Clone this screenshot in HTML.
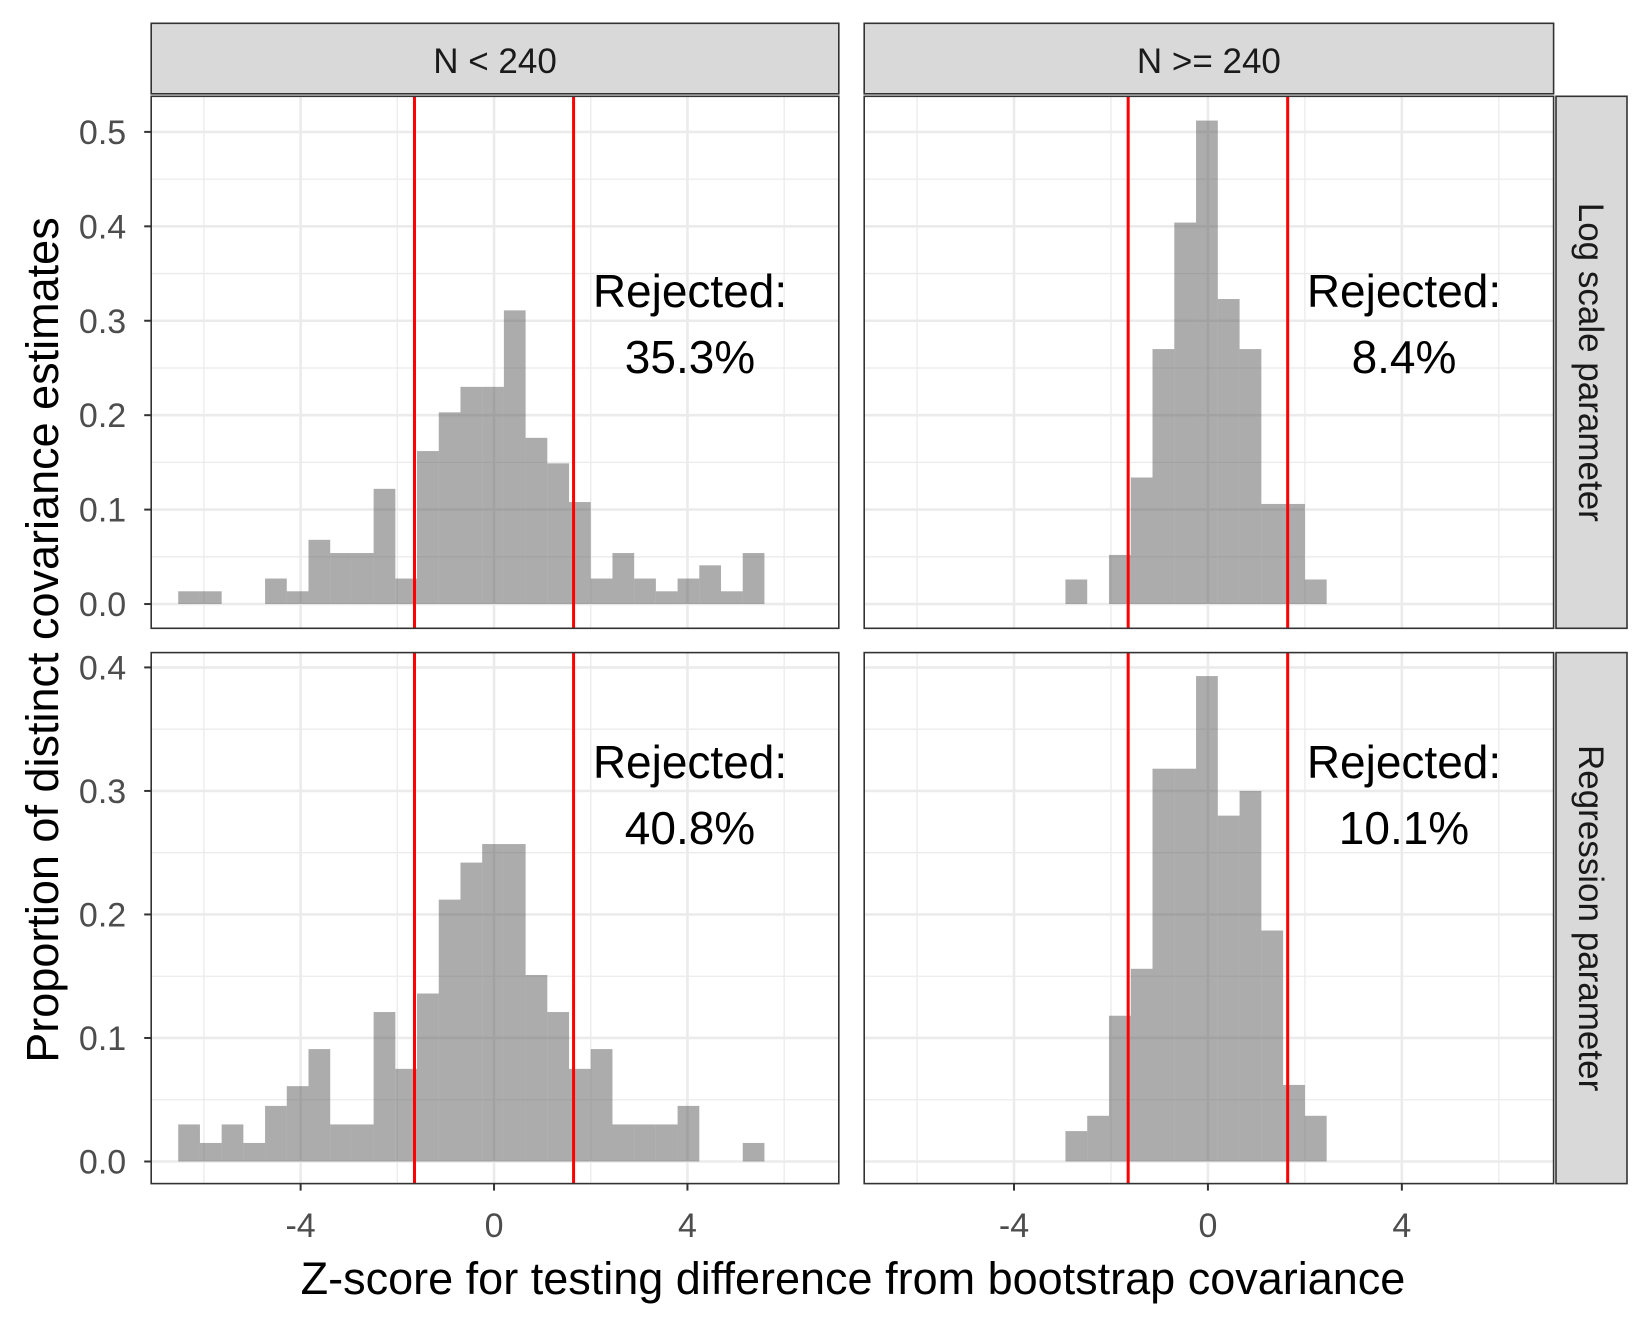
<!DOCTYPE html>
<html><head><meta charset="utf-8"><style>
body{margin:0;background:#fff}
svg{display:block;font-family:"Liberation Sans",sans-serif}
</style></head><body>
<svg id="chart" width="1650" height="1320" viewBox="0 0 1650 1320"></svg>
<script>
// ---- data ----
const binWidth = 0.449;
const binOrigin = 2.0;
const colLabels = ["N < 240", "N >= 240"];
const rowLabels = ["Log scale parameter", "Regression parameter"];
const rejectedLabels = [["35.3%", "8.4%"], ["40.8%", "10.1%"]];
const criticalValues = [-1.645, 1.645];
const xTicks = [-4, 0, 4];
const xMinor = [-6, -2, 2, 6];
const yTicksTop = [0, 0.1, 0.2, 0.3, 0.4, 0.5];
const yTicksBottom = [0, 0.1, 0.2, 0.3, 0.4];
const firstBinTL = -19, firstBinTR = -11, firstBinBL = -19, firstBinBR = -11;
const valuesTL = [0.0135,0.0135,0,0,0.027,0.0135,0.068,0.054,0.054,0.122,0.027,0.162,0.203,0.23,0.23,0.311,0.176,0.149,0.108,0.027,0.054,0.027,0.0135,0.027,0.041,0.0135,0.054];
const valuesTR = [0.026,0,0.052,0.134,0.27,0.404,0.512,0.323,0.27,0.106,0.106,0.026];
const valuesBL = [0.03,0.015,0.03,0.015,0.045,0.061,0.091,0.03,0.03,0.121,0.075,0.136,0.212,0.242,0.257,0.257,0.151,0.121,0.075,0.091,0.03,0.03,0.03,0.045,0,0,0.015];
const valuesBR = [0.0246,0.037,0.118,0.156,0.318,0.318,0.393,0.28,0.3,0.187,0.062,0.037];

// ---- layout ----
const NS = "http://www.w3.org/2000/svg";
const svg = document.getElementById("chart");
function mk(tag, attrs, parent){const e=document.createElementNS(NS,tag);for(const k in attrs)e.setAttribute(k,attrs[k]);(parent||svg).appendChild(e);return e;}
const cols = [{l:151.2,r:838.8},{l:864.2,r:1553.6}];
const rows = [{t:96.3,b:628.3,ymin:-0.0257,ymax:0.5377,ticks:yTicksTop},{t:652.6,b:1183.6,ymin:-0.0179,ymax:0.412,ticks:yTicksBottom}];
const xmin=-7.09, xmax=7.13;
const panels = [[{v:valuesTL,f:firstBinTL},{v:valuesTR,f:firstBinTR}],[{v:valuesBL,f:firstBinBL},{v:valuesBR,f:firstBinBR}]];

for(let ri=0;ri<2;ri++){for(let ci=0;ci<2;ci++){
  const C=cols[ci],R=rows[ri];
  const xs=x=>C.l+(x-xmin)/(xmax-xmin)*(C.r-C.l);
  const ys=y=>R.b-(y-R.ymin)/(R.ymax-R.ymin)*(R.b-R.t);
  const g=mk("g",{});
  
  
  mk("rect",{x:C.l,y:R.t,width:C.r-C.l,height:R.b-R.t,fill:"#fff"},g);
  for(let i=0;i<R.ticks.length-1;i++){const y=ys((R.ticks[i]+R.ticks[i+1])/2);mk("line",{x1:C.l,x2:C.r,y1:y,y2:y,stroke:"#ebebeb","stroke-width":1.3},g);}
  for(const m of xMinor){const x=xs(m);mk("line",{x1:x,x2:x,y1:R.t,y2:R.b,stroke:"#ebebeb","stroke-width":1.3},g);}
  for(const t of R.ticks){const y=ys(t);mk("line",{x1:C.l,x2:C.r,y1:y,y2:y,stroke:"#ebebeb","stroke-width":2.6},g);}
  for(const t of xTicks){const x=xs(t);mk("line",{x1:x,x2:x,y1:R.t,y2:R.b,stroke:"#ebebeb","stroke-width":2.6},g);}
  const P=panels[ri][ci];
  P.v.forEach((v,i)=>{
    if(v<=0)return;
    const x0=binOrigin+(P.f+i)*binWidth;
    const b=mk("rect",{x:xs(x0),y:ys(v),width:xs(x0+binWidth)-xs(x0),height:ys(0)-ys(v),fill:"#595959","fill-opacity":0.5},g);
    
    
  });
  for(const cv of criticalValues){const x=xs(cv);const l=mk("line",{x1:x,x2:x,y1:R.t,y2:R.b,stroke:"#ff0000","stroke-width":3},g);
    
    }
  const cx=ci===0?690:1404; const by=ri===0?307:778;
  const t1=mk("text",{x:cx,y:by,"text-anchor":"middle","font-size":46,fill:"#000"},g);t1.textContent="Rejected:";
  
  
  const t2=mk("text",{x:cx,y:by+66,"text-anchor":"middle","font-size":46,fill:"#000"},g);t2.textContent=rejectedLabels[ri][ci];
  
  
  mk("rect",{x:C.l,y:R.t,width:C.r-C.l,height:R.b-R.t,fill:"none",stroke:"#333","stroke-width":1.6},g);
  if(ci===0){for(const t of R.ticks){const y=ys(t);mk("line",{x1:C.l-7,x2:C.l,y1:y,y2:y,stroke:"#333","stroke-width":2},g);
    const tl=mk("text",{x:C.l-25,y:y+12,"text-anchor":"end","font-size":34,fill:"#4d4d4d"},g);tl.textContent=t.toFixed(1);
    
    }}
  if(ri===1){for(const t of xTicks){const x=xs(t);mk("line",{x1:x,x2:x,y1:R.b,y2:R.b+7,stroke:"#333","stroke-width":2},g);
    const tl=mk("text",{x:x,y:1237,"text-anchor":"middle","font-size":34,fill:"#4d4d4d"},g);tl.textContent=String(t);
    
    }}
}}
colLabels.forEach((lab,ci)=>{const C=cols[ci];
  const s=mk("rect",{x:C.l,y:23.3,width:C.r-C.l,height:70.5,fill:"#d9d9d9",stroke:"#333","stroke-width":1.6});
  
  
  const t=mk("text",{x:(C.l+C.r)/2,y:73,"text-anchor":"middle","font-size":35,fill:"#1a1a1a"});t.textContent=lab;
  
  
});
rowLabels.forEach((lab,ri)=>{const R=rows[ri];
  const s=mk("rect",{x:1556,y:R.t,width:71,height:R.b-R.t,fill:"#d9d9d9",stroke:"#333","stroke-width":1.6});
  
  
  const cy=(R.t+R.b)/2;
  const t=mk("text",{x:1579,y:cy,"text-anchor":"middle","font-size":35,fill:"#1a1a1a",transform:"rotate(90 1579 "+cy+")"});t.textContent=lab;
  
  
});
const xt=mk("text",{x:853,y:1294,"text-anchor":"middle","font-size":45,fill:"#000"});xt.textContent="Z-score for testing difference from bootstrap covariance";


const yt=mk("text",{x:58,y:640,"text-anchor":"middle","font-size":45,fill:"#000",transform:"rotate(-90 58 640)"});yt.textContent="Proportion of distinct covariance estimates";


</script>
</body></html>
